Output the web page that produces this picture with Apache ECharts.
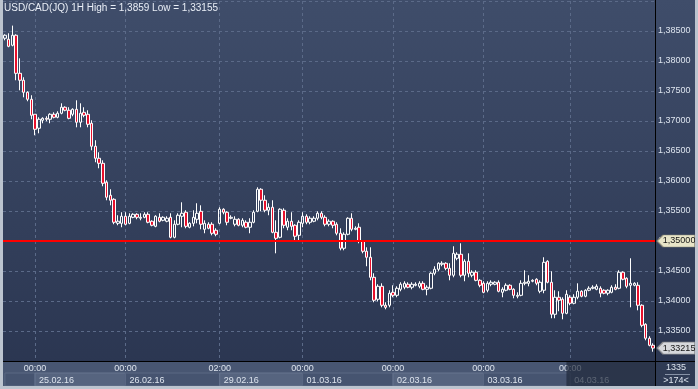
<!DOCTYPE html>
<html><head><meta charset="utf-8">
<script src="https://cdn.jsdelivr.net/npm/echarts@6/dist/echarts.min.js"></script>
<style>
html,body{margin:0;padding:0;width:698px;height:389px;background:#bcc4cf;overflow:hidden;}
#c{position:absolute;left:3px;top:0;width:692px;height:386px;}
</style></head><body><div id="c"></div>
<script>
const titleText = 'USD/CAD(JQ) 1H High = 1,3859 Low = 1,33155';
const open = [
1.38379,1.38362,1.38262,1.38429,1.37795,1.37679,1.37479,1.37362,1.37112,1.36879,
1.37012,1.37045,1.37029,1.37112,1.37062,1.37129,1.37229,1.37179,1.37112,1.37195,
1.36979,1.37145,1.37112,1.36962,1.36579,1.36379,
1.36295,1.35979,1.35762,1.35695,1.35295,
1.35295,1.35412,1.35295,1.35395,1.35445,1.35379,1.35395,1.35445,1.35329,1.35245,
1.35395,1.35345,1.35329,1.35395,1.35062,1.35279,1.35412,1.35479,1.35229,1.35295,
1.35362,1.35495,1.35195,1.35279,1.35279,1.35179,1.35295,1.35529,1.35479,1.35379,
1.35279,1.35362,1.35262,1.35312,1.35229,1.35312,1.35495,1.35862,1.35679,1.35512,
1.35562,1.35145,1.35062,1.35512,1.35229,1.35329,1.35262,1.35095,1.35295,1.35412,
1.35312,1.35329,1.35379,1.35462,1.35395,1.35279,1.35329,1.35279,1.35129,1.34879,
1.35112,1.35379,1.35195,1.35229,1.34995,1.34829,1.34729,1.34395,1.34029,1.34245,
1.33929,1.33929,1.34145,1.34095,1.34195,1.34229,1.34279,1.34229,1.34262,1.34245,
1.34295,1.34195,1.34212,1.34462,1.34529,1.34612,1.34629,1.34545,1.34429,1.34712,
1.34779,1.34429,1.34662,1.34429,1.34479,1.34345,1.34295,1.34179,1.34279,1.34279,
1.34312,1.34145,1.34179,1.34262,1.34195,1.34079,1.34095,1.34295,1.34295,1.34329,
1.34362,1.34162,1.34179,1.34662,1.34312,1.33779,1.34062,1.34029,1.33795,1.34062,
1.33962,1.34062,1.34162,1.34079,1.34179,1.34212,1.34195,1.34212,1.34179,1.34129,
1.34145,1.34229,1.34212,1.34479,1.34379,1.34262,1.34262,1.34262,1.33929,1.33612,
1.33379,1.33262];
const close = [
1.38429,1.38245,1.38429,1.37795,1.37679,1.37479,1.37362,1.37095,1.36862,1.37029,
1.37045,1.37029,1.37112,1.37062,1.37129,1.37229,1.37179,1.37045,1.37195,1.36979,
1.37129,1.37095,1.36945,1.36579,1.36379,1.36295,
1.35962,1.35729,1.35679,1.35312,1.35329,
1.35412,1.35279,1.35412,1.35445,1.35395,1.35395,1.35445,1.35312,1.35262,1.35412,
1.35329,1.35395,1.35379,1.35062,1.35279,1.35429,1.35462,1.35245,1.35295,1.35395,
1.35462,1.35279,1.35295,1.35212,1.35129,1.35112,1.35529,1.35479,1.35312,1.35395,
1.35362,1.35262,1.35345,1.35229,1.35312,1.35479,1.35862,1.35679,1.35512,1.35562,
1.35145,1.35045,1.35529,1.35262,1.35329,1.35245,1.35079,1.35312,1.35412,1.35312,
1.35379,1.35379,1.35462,1.35395,1.35279,1.35329,1.35262,1.35129,1.34879,1.35112,
1.35379,1.35195,1.35212,1.34995,1.34829,1.34729,1.34395,1.34012,1.34245,1.33929,
1.33895,1.34129,1.34095,1.34212,1.34279,1.34295,1.34229,1.34279,1.34279,1.34295,
1.34195,1.34229,1.34462,1.34529,1.34629,1.34629,1.34545,1.34429,1.34795,1.34779,
1.34429,1.34662,1.34462,1.34479,1.34345,1.34262,1.34145,1.34295,1.34312,1.34312,
1.34162,1.34195,1.34262,1.34195,1.34095,1.34095,1.34295,1.34312,1.34329,1.34345,
1.34295,1.34312,1.34645,1.34312,1.33779,1.34062,1.34012,1.33795,1.34112,1.33962,
1.34062,1.34162,1.34079,1.34179,1.34212,1.34229,1.34245,1.34129,1.34129,1.34179,
1.34229,1.34195,1.34479,1.34362,1.34245,1.34295,1.34295,1.33929,1.33595,1.33379,
1.33262,1.33215];
const low = [
1.38345,1.38229,1.38245,1.37679,1.37512,1.37395,1.37329,1.37029,1.36762,1.36795,
1.36962,1.36995,1.36962,1.37045,1.37045,1.37112,1.37162,1.37029,1.37079,1.36895,
1.36895,1.37062,1.36895,1.36512,1.36312,1.36212,
1.35912,1.35679,1.35595,1.35279,1.35262,
1.35229,1.35262,1.35279,1.35379,1.35362,1.35345,1.35379,1.35295,1.35245,1.35229,
1.35312,1.35329,1.35312,1.35045,1.35045,1.35262,1.35229,1.35212,1.35212,1.35245,
1.35295,1.35195,1.35129,1.35195,1.35095,1.35079,1.35279,1.35445,1.35262,1.35362,
1.35245,1.35245,1.35229,1.35212,1.35129,1.35295,1.35479,1.35495,1.35479,1.35429,
1.35129,1.34795,1.35045,1.35212,1.35179,1.35179,1.35012,1.35012,1.35229,1.35279,
1.35279,1.35312,1.35345,1.35362,1.35245,1.35245,1.35212,1.35095,1.34845,1.34845,
1.35095,1.35162,1.35179,1.34962,1.34795,1.34579,1.34345,1.33979,1.33995,1.33895,
1.33862,1.33895,1.34062,1.34062,1.34162,1.34195,1.34212,1.34195,1.34245,1.34212,
1.34179,1.34095,1.34195,1.34429,1.34495,1.34579,1.34512,1.34345,1.34395,1.34679,
1.34395,1.34329,1.34395,1.34395,1.34329,1.34229,1.34129,1.34145,1.34245,1.34262,
1.34145,1.34062,1.34162,1.34179,1.34045,1.34045,1.34079,1.34262,1.34245,1.34312,
1.34262,1.34129,1.34129,1.34295,1.33712,1.33712,1.33829,1.33695,1.33779,1.33929,
1.33945,1.34029,1.34062,1.34062,1.34162,1.34195,1.34179,1.34062,1.34112,1.34095,
1.34129,1.34179,1.34195,1.34345,1.34212,1.33895,1.34245,1.33845,1.33562,1.33345,
1.33245,1.33155];
const high = [
1.38445,1.38462,1.38590,1.38445,1.38045,1.37729,1.37495,1.37429,1.37112,1.37062,
1.37062,1.37079,1.37129,1.37145,1.37162,1.37295,1.37245,1.37229,1.37212,1.37345,
1.37295,1.37229,1.37179,1.37012,1.36679,1.36479,
1.36345,1.36012,1.35862,1.35712,1.35429,
1.35479,1.35479,1.35462,1.35462,1.35462,1.35462,1.35479,1.35479,1.35345,1.35429,
1.35462,1.35412,1.35412,1.35462,1.35345,1.35462,1.35645,1.35512,1.35312,1.35512,
1.35629,1.35595,1.35345,1.35312,1.35312,1.35212,1.35562,1.35545,1.35495,1.35429,
1.35412,1.35379,1.35379,1.35345,1.35379,1.35512,1.35895,1.35879,1.35762,1.35629,
1.35679,1.35345,1.35545,1.35545,1.35379,1.35479,1.35279,1.35345,1.35479,1.35445,
1.35412,1.35412,1.35495,1.35495,1.35429,1.35362,1.35345,1.35312,1.35212,1.35145,
1.35395,1.35462,1.35245,1.35295,1.35012,1.34895,1.34895,1.34462,1.34279,1.34295,
1.33979,1.34179,1.34262,1.34245,1.34312,1.34329,1.34312,1.34312,1.34312,1.34329,
1.34329,1.34262,1.34479,1.34579,1.34645,1.34662,1.34645,1.34629,1.34912,1.34812,
1.34962,1.34695,1.34795,1.34512,1.34512,1.34362,1.34329,1.34329,1.34345,1.34329,
1.34345,1.34229,1.34295,1.34279,1.34212,1.34145,1.34345,1.34512,1.34429,1.34362,
1.34379,1.34345,1.34729,1.34679,1.34495,1.34179,1.34162,1.34062,1.34179,1.34095,
1.34112,1.34295,1.34179,1.34195,1.34245,1.34262,1.34279,1.34245,1.34195,1.34195,
1.34262,1.34279,1.34512,1.34495,1.34395,1.34712,1.34312,1.34312,1.33945,1.33629,
1.33412,1.33295];
const dayStartIdx = [8, 32, 57, 79, 103, 127, 150];
const timeTicks = ['00:00','00:00','02:00','00:00','00:00','00:00','00:00'];
const dateTicks = ['25.02.16','26.02.16','29.02.16','01.03.16','02.03.16','03.03.16','04.03.16'];
const yTicks = [1.335,1.34,1.345,1.35,1.355,1.36,1.365,1.37,1.375,1.38,1.385];
const levelPrice = 1.35;
const cornerTop = '1335';
const cornerBottom = '>174<';

const categories = open.map((_, i) => String(i));
const candles = open.map((o, i) => [o, close[i], low[i], high[i]]);
const lastIdx = open.length - 1;
const lastClose = close[lastIdx];
const fmt = v => v.toFixed(5).replace('.', ',');
const isDay = i => dayStartIdx.indexOf(i) >= 0;

const boxStarts = [0].concat(dayStartIdx);
const boxes = [];
for (let k = 0; k < boxStarts.length - 1; k++) boxes.push([boxStarts[k], boxStarts[k + 1], k % 2]);

const tagPath = 'path://M0,6L6,0L38,0L38,12L6,12Z';
const labelColor = '#dde4ee';
const F = 'Liberation Sans';

const chart = echarts.init(document.getElementById('c'), null, {renderer: 'canvas'});
chart.setOption({
  animation: false,
  textStyle: {fontFamily: F},
  backgroundColor: {type: 'linear', x: 0, y: 0, x2: 0, y2: 1,
    colorStops: [{offset: 0, color: '#3f4d6a'}, {offset: 1, color: '#2a3550'}]},
  title: {text: titleText, left: 1, top: 3, padding: 0,
    textStyle: {color: '#e9eef6', fontSize: 10, fontWeight: 'normal', fontFamily: F}},
  grid: [
    {left: 0, right: 40, top: 1, bottom: 25},
    {left: 0, right: 40, bottom: 0, height: 25, show: true, backgroundColor: '#485672', borderWidth: 0}
  ],
  xAxis: [
    {type: 'category', gridIndex: 0, data: categories, boundaryGap: true,
      axisLine: {show: false}, axisTick: {show: false}, axisLabel: {show: false},
      splitLine: {show: true, interval: (i) => isDay(i), alignWithLabel: true,
        lineStyle: {color: '#5b6a88', width: 1, type: [3, 3]}}},
    {type: 'category', gridIndex: 0, data: categories, position: 'bottom', z: 10,
      axisLine: {show: false}, axisTick: {show: false}, splitLine: {show: false},
      axisLabel: {interval: (i) => isDay(i), formatter: (v, i) => timeTicks[dayStartIdx.indexOf(i)] || '',
        color: labelColor, fontSize: 9, margin: 3, fontFamily: F}},
    {type: 'category', gridIndex: 0, data: categories, position: 'bottom', offset: 12, z: 10,
      axisLine: {show: false}, axisTick: {show: false}, splitLine: {show: false},
      axisLabel: {interval: (i) => isDay(i), align: 'left',
        formatter: (v, i) => '{d|' + (dateTicks[dayStartIdx.indexOf(i)] || '') + '}',
        rich: {d: {padding: [0, 0, 0, 4], color: labelColor, fontSize: 9, fontFamily: F}},
        margin: 3}},
    {type: 'category', gridIndex: 1, data: categories, show: false}
  ],
  yAxis: [
    {type: 'value', gridIndex: 0, position: 'right', min: 1.33, max: 1.39, interval: 0.005,
      axisLine: {show: false}, axisTick: {show: false},
      axisLabel: {margin: 3, color: labelColor, fontSize: 9, fontFamily: F,
        formatter: v => yTicks.some(t => Math.abs(t - v) < 1e-9) ? fmt(v) : ''},
      splitLine: {show: true, lineStyle: {color: '#5b6a88', width: 1, type: [3, 3]}}},
    {type: 'value', gridIndex: 1, min: 0, max: 1, show: false}
  ],
  graphic: [
    {type: 'rect', z: 50, shape: {x: 652, y: 361, width: 40, height: 25}, style: {fill: '#2f3b54'}},
    {type: 'line', z: 51, shape: {x1: 0, y1: 361.5, x2: 692, y2: 361.5}, style: {stroke: '#000', lineWidth: 1}},
    {type: 'line', z: 51, shape: {x1: 652.5, y1: 0, x2: 652.5, y2: 386}, style: {stroke: '#000', lineWidth: 1}},
    {type: 'text', z: 52, x: 673, y: 368, style: {text: cornerTop, fill: labelColor, font: '9px "Liberation Sans"', textAlign: 'center', textVerticalAlign: 'middle'}},
    {type: 'line', z: 52, shape: {x1: 662, y1: 374.5, x2: 687, y2: 374.5}, style: {stroke: '#8792a6', lineWidth: 1}},
    {type: 'text', z: 52, x: 673, y: 381, style: {text: cornerBottom, fill: labelColor, font: '9px "Liberation Sans"', textAlign: 'center', textVerticalAlign: 'middle'}}
  ],
  series: [
    {type: 'candlestick', xAxisIndex: 0, yAxisIndex: 0, data: candles, barWidth: 3,
      itemStyle: {color: 'rgba(0,0,0,0)', color0: '#e8102c', borderColor: '#ffffff', borderColor0: '#ffffff', borderWidth: 1},
      markLine: {silent: true, symbol: ['none', 'none'], label: {show: false},
        lineStyle: {color: '#ff0000', width: 2, type: 'solid'}, data: [{yAxis: levelPrice}]},
      markPoint: {silent: true, data: [
        {coord: [lastIdx, levelPrice], symbol: tagPath, symbolSize: [38, 12], symbolOffset: [23, 0],
          itemStyle: {color: '#e8e5c8', borderColor: '#8c8a78', borderWidth: 1},
          label: {show: true, position: 'inside', offset: [3, 0], formatter: fmt(levelPrice), color: '#151515', fontSize: 9, fontFamily: F}},
        {coord: [lastIdx, lastClose], symbol: tagPath, symbolSize: [38, 12], symbolOffset: [23, 0],
          itemStyle: {color: '#d6d8dc', borderColor: '#8a8c90', borderWidth: 1},
          label: {show: true, position: 'inside', offset: [3, 0], formatter: fmt(lastClose), color: '#151515', fontSize: 9, fontFamily: F}}
      ]}},
    {type: 'custom', xAxisIndex: 3, yAxisIndex: 1, z: 2, silent: true, data: boxes,
      encode: {x: 0, y: 2},
      renderItem: (params, api) => {
        const s = api.coord([api.value(0), 0.52]);
        const e = api.coord([api.value(1), 0]);
        const light = api.value(2) === 1;
        return {type: 'rect', shape: {x: s[0], y: s[1], width: e[0] - s[0], height: e[1] - s[1]},
          style: {fill: light ? '#56647f' : '#465470', stroke: light ? '#66748f' : '#5a6883', lineWidth: 1}};
      }},
    {type: 'custom', xAxisIndex: 3, yAxisIndex: 1, z: 20, silent: true, data: [[dayStartIdx[dayStartIdx.length - 1] - 1, lastIdx]],
      encode: {x: 0, y: 1},
      renderItem: (params, api) => {
        const bw = api.size([1, 0])[0];
        const s = api.coord([api.value(0), 1]);
        const e = api.coord([api.value(1), 0]);
        return {type: 'rect', shape: {x: s[0], y: s[1], width: e[0] + bw / 2 - s[0], height: e[1] - s[1]},
          style: {fill: 'rgba(30,38,56,0.68)'}};
      }}
  ]
});
</script></body></html>
